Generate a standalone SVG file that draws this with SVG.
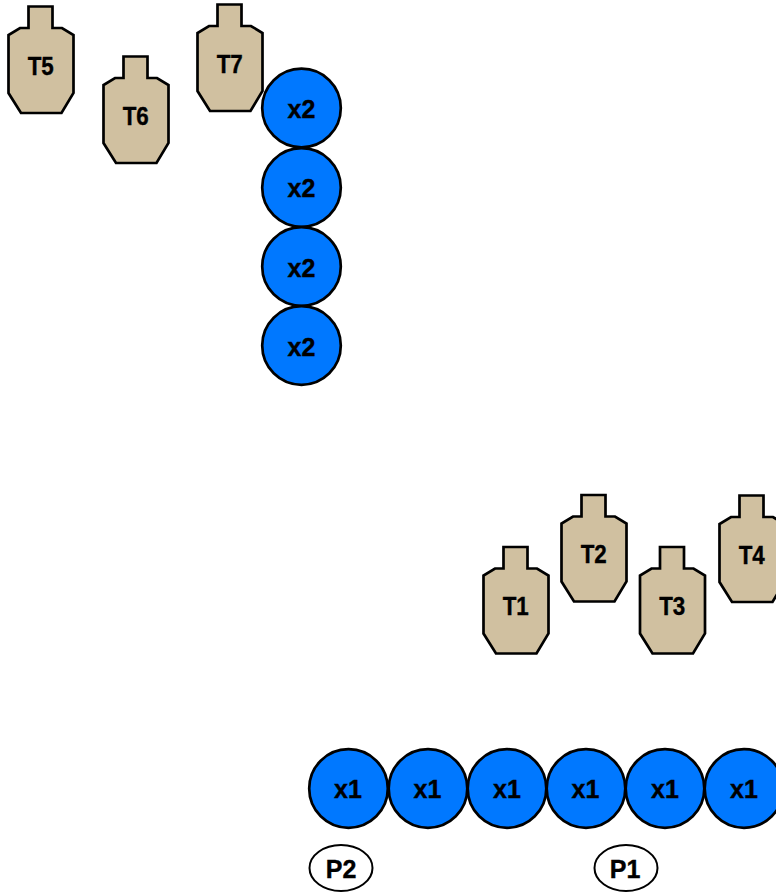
<svg xmlns="http://www.w3.org/2000/svg" width="776" height="892" viewBox="0 0 776 892">
<style>
text{font-family:"Liberation Sans",Arial,sans-serif;font-weight:bold;font-size:25px;fill:#000;stroke:#000;stroke-width:.4;text-anchor:middle}
.t{fill:#d0c0a0;stroke:#000;stroke-width:2.7;stroke-linejoin:miter}
.c{fill:#0078ff;stroke:#000;stroke-width:2.7}
.p{fill:#fff;stroke:#000;stroke-width:2}
.n{transform:scale(.86,1);font-size:26px}
</style>
<defs>
<path id="tg" class="t" d="M20,0H44V21.5H53.5L65,28.5V86.5L53,106.5H12.5L0,86.5V28.5L11.5,21.5H20Z"/>
</defs>
<rect width="776" height="892" fill="#fff"/>
<g id="connectors"/>
<g id="T5" transform="translate(8.5,6.5)"><use href="#tg"/><text class="n" x="37.5" y="68.5">T5</text></g>
<g id="T6" transform="translate(103.5,56.5)"><use href="#tg"/><text class="n" x="37.5" y="68.5">T6</text></g>
<g id="T7" transform="translate(197.5,4.5)"><use href="#tg"/><text class="n" x="37.5" y="68.5">T7</text></g>
<g id="T1" transform="translate(483.5,547)"><use href="#tg"/><text class="n" x="37.5" y="68.5">T1</text></g>
<g id="T2" transform="translate(561.5,495)"><use href="#tg"/><text class="n" x="37.5" y="68.5">T2</text></g>
<g id="T3" transform="translate(640,547)"><use href="#tg"/><text class="n" x="37.5" y="68.5">T3</text></g>
<g id="T4" transform="translate(719.5,495.5)"><use href="#tg"/><text class="n" x="37.5" y="68.5">T4</text></g>
<g id="a1"><circle class="c" cx="301.5" cy="108" r="39.3"/><text x="301.5" y="118">x2</text></g>
<g id="a2"><circle class="c" cx="301.5" cy="187.5" r="39.3"/><text x="301.5" y="197">x2</text></g>
<g id="a3"><circle class="c" cx="301.5" cy="266.5" r="39.3"/><text x="301.5" y="277">x2</text></g>
<g id="a4"><circle class="c" cx="301.5" cy="345.5" r="39.3"/><text x="301.5" y="356">x2</text></g>
<g id="b1"><circle class="c" cx="348.5" cy="788.5" r="39.3"/><text x="348" y="798">x1</text></g>
<g id="b2"><circle class="c" cx="428" cy="788.5" r="39.3"/><text x="427.5" y="798">x1</text></g>
<g id="b3"><circle class="c" cx="507" cy="788.5" r="39.3"/><text x="507" y="798">x1</text></g>
<g id="b4"><circle class="c" cx="586" cy="788.5" r="39.3"/><text x="585.5" y="798">x1</text></g>
<g id="b5"><circle class="c" cx="665" cy="788.5" r="39.3"/><text x="665" y="798">x1</text></g>
<g id="b6"><circle class="c" cx="744" cy="788.5" r="39.3"/><text x="744" y="798">x1</text></g>
<g id="P2"><ellipse class="p" cx="341" cy="868" rx="31.5" ry="23"/><text x="341" y="878">P2</text></g>
<g id="P1"><ellipse class="p" cx="626" cy="868" rx="31.5" ry="23"/><text x="625" y="878">P1</text></g>
</svg>
